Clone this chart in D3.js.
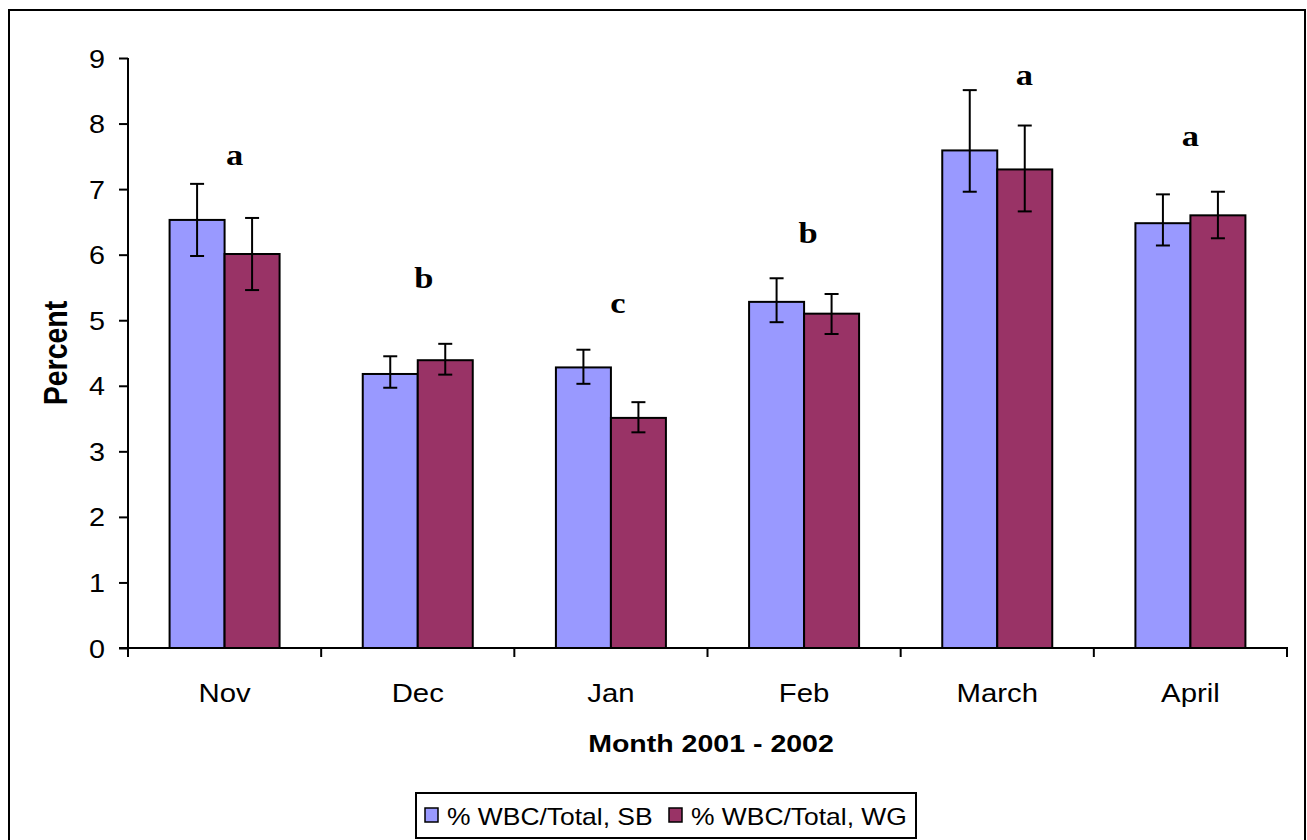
<!DOCTYPE html>
<html>
<head>
<meta charset="utf-8">
<script src="https://cdn.jsdelivr.net/npm/d3@7"></script>
<style>
html,body{margin:0;padding:0;background:#fff;}
svg{display:block;}
</style>
</head>
<body>
<svg id="chart" width="1307" height="840"></svg>
<script>
// ---- data ----
const months = ["Nov", "Dec", "Jan", "Feb", "March", "April"];
const seriesNames = ["% WBC/Total, SB", "% WBC/Total, WG"];
const sbValues = [6.53, 4.18, 4.28, 5.28, 7.59, 6.48];
const sbHigh   = [7.08, 4.45, 4.55, 5.64, 8.51, 6.92];
const sbLow    = [5.98, 3.97, 4.03, 4.97, 6.96, 6.14];
const wgValues = [6.01, 4.39, 3.51, 5.10, 7.30, 6.60];
const wgHigh   = [6.56, 4.64, 3.75, 5.40, 7.97, 6.96];
const wgLow    = [5.46, 4.17, 3.29, 4.79, 6.66, 6.25];
const sigLetters = ["a", "b", "c", "b", "a", "a"];
const sigLetterLevel = [7.37, 5.49, 5.11, 6.18, 8.59, 7.66];
const sigLetterShift = [10, 6, 7, 4, 27, 0];
const yTicks = [0, 1, 2, 3, 4, 5, 6, 7, 8, 9];
const colors = ["#9999FF", "#993366"];

(function () {
const svg = d3.select("#chart");
const pLeft = 128, pRight = 1287, pTop = 58, pBottom = 648;
const SX = 1.15; // horizontal stretch of text seen in the reference
const sans = "Liberation Sans, Arial, sans-serif";

const x = d3.scaleBand().domain(months).range([pLeft, pRight]);
const groupW = 110;
const xs = d3.scaleBand().domain([0, 1]).range([0, groupW]);
const y = d3.scaleLinear().domain([0, 9]).range([pBottom, pTop]);

// outer border
svg.append("rect").attr("x", 9).attr("y", 10).attr("width", 1296).attr("height", 840)
  .attr("fill", "none").attr("stroke", "#000").attr("stroke-width", 2);

const series = [
  {name: seriesNames[0], values: sbValues, high: sbHigh, low: sbLow},
  {name: seriesNames[1], values: wgValues, high: wgHigh, low: wgLow}
];
const barX = (m, si) => x(m) + (x.bandwidth() - groupW) / 2 + xs(si);

// bars
series.forEach((s, si) => {
  svg.append("g").selectAll("rect").data(months).join("rect")
    .attr("x", m => barX(m, si))
    .attr("y", (m, i) => y(s.values[i]))
    .attr("width", xs.bandwidth())
    .attr("height", (m, i) => y(0) - y(s.values[i]))
    .attr("fill", colors[si])
    .attr("stroke", "#000").attr("stroke-width", 2);
});

// error bars
series.forEach((s, si) => {
  const g = svg.append("g").attr("stroke", "#000").attr("stroke-width", 2);
  months.forEach((m, i) => {
    const cx = barX(m, si) + xs.bandwidth() / 2;
    const hi = y(s.high[i]);
    const lo = y(s.low[i]);
    g.append("line").attr("x1", cx).attr("x2", cx).attr("y1", hi).attr("y2", lo);
    g.append("line").attr("x1", cx - 7).attr("x2", cx + 7).attr("y1", hi).attr("y2", hi);
    g.append("line").attr("x1", cx - 7).attr("x2", cx + 7).attr("y1", lo).attr("y2", lo);
  });
});

// y axis
const yAxis = d3.axisLeft(y).tickValues(yTicks).tickSize(9).tickPadding(14).tickFormat(d3.format("d"));
const gy = svg.append("g").attr("transform", `translate(${pLeft},0)`).call(yAxis);
gy.select(".domain").attr("stroke", "#000").attr("stroke-width", 2).attr("d", `M0,${pTop}V${pBottom}`);
gy.selectAll(".tick line").attr("stroke", "#000").attr("stroke-width", 2);
gy.selectAll(".tick text")
  .attr("x", null).attr("dy", null)
  .attr("transform", `translate(-23,9) scale(${SX},1)`)
  .attr("font-family", sans).attr("font-size", 25).attr("fill", "#000");

// x axis: ticks at category boundaries
const gx = svg.append("g").attr("transform", `translate(0,${pBottom})`);
gx.append("line").attr("x1", pLeft - 9).attr("x2", pRight).attr("y1", 0).attr("y2", 0)
  .attr("stroke", "#000").attr("stroke-width", 2);
const bounds = months.map(m => x(m)).concat([x(months[months.length - 1]) + x.bandwidth()]);
gx.selectAll("line.tk").data(bounds).join("line").attr("class", "tk")
  .attr("x1", d => d).attr("x2", d => d).attr("y1", -1).attr("y2", 9)
  .attr("stroke", "#000").attr("stroke-width", 2);
gx.selectAll("text").data(months).join("text")
  .attr("transform", m => `translate(${x(m) + x.bandwidth() / 2},54) scale(${SX},1)`)
  .attr("text-anchor", "middle")
  .attr("font-family", sans).attr("font-size", 25.5).attr("fill", "#000")
  .text(m => m);

// significance letters
svg.append("g").selectAll("text").data(sigLetters).join("text")
  .attr("transform", (d, i) => `translate(${x(months[i]) + x.bandwidth() / 2 + sigLetterShift[i]},${y(sigLetterLevel[i])}) scale(${SX},1)`)
  .attr("text-anchor", "middle")
  .attr("font-family", "Liberation Serif, Times New Roman, serif")
  .attr("font-weight", "bold").attr("font-size", 30).attr("fill", "#000")
  .text(d => d);

// axis titles
svg.append("text").attr("transform", `translate(711,752) scale(${SX},1)`)
  .attr("text-anchor", "middle")
  .attr("font-family", sans).attr("font-weight", "bold")
  .attr("font-size", 24.8).attr("fill", "#000").text("Month 2001 - 2002");
svg.append("text").attr("transform", `translate(67,353) scale(${SX},1) rotate(-90)`)
  .attr("text-anchor", "middle")
  .attr("font-family", sans).attr("font-weight", "bold")
  .attr("font-size", 28.5).attr("fill", "#000").text("Percent");

// legend
const lg = svg.append("g");
lg.append("rect").attr("x", 416).attr("y", 793).attr("width", 500).attr("height", 45)
  .attr("fill", "#fff").attr("stroke", "#000").attr("stroke-width", 2);
const legendX = [425, 669];
series.forEach((s, si) => {
  lg.append("rect").attr("x", legendX[si]).attr("y", 808).attr("width", 13).attr("height", 14)
    .attr("fill", colors[si]).attr("stroke", "#000").attr("stroke-width", 1.5);
  lg.append("text").attr("transform", `translate(${legendX[si] + 22},825) scale(${SX},1)`)
    .attr("font-family", sans).attr("font-size", 23).attr("fill", "#000")
    .text(s.name);
});
})();
</script>
</body>
</html>
